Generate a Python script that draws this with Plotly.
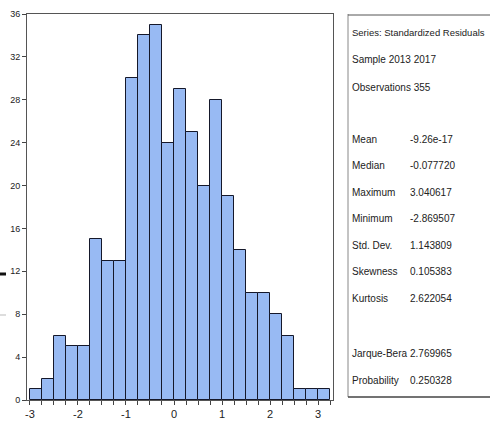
import plotly.graph_objects as go

# ---- data ----
bin_start = -3.0
bin_width = 0.25
counts = [1, 2, 6, 5, 5, 15, 13, 13, 30, 34, 35, 24, 29, 25, 20, 28, 19, 14, 10, 10, 8, 6, 1, 1, 1]
x_ticks = [-3, -2, -1, 0, 1, 2, 3]
y_ticks = [0, 4, 8, 12, 16, 20, 24, 28, 32, 36]

header_lines = ["Series: Standardized Residuals", "Sample 2013 2017", "Observations 355"]
stat_names = ["Mean", "Median", "Maximum", "Minimum", "Std. Dev.", "Skewness", "Kurtosis"]
stat_values = ["-9.26e-17", "-0.077720", "3.040617", "-2.869507", "1.143809", "0.105383", "2.622054"]
test_names = ["Jarque-Bera", "Probability"]
test_values = ["2.769965", "0.250328"]

# ---- layout geometry (pixels) ----
W, H = 490, 432
L, R, T, B = 27, 333, 14, 400
FONT = "Liberation Sans, Arial, sans-serif"


def px(xp):
    return (xp - L) / (R - L)


def py(yp):
    return (B - yp) / (B - T)


centers = [bin_start + bin_width * (i + 0.5) for i in range(len(counts))]

fig = go.Figure(go.Bar(
    x=centers, y=counts, width=bin_width,
    marker=dict(color="#98BAF3", line=dict(color="#15182a", width=1)),
    hoverinfo="x+y",
))

fig.update_layout(
    width=W, height=H,
    margin=dict(l=L, r=W - R, t=T, b=H - B),
    paper_bgcolor="white", plot_bgcolor="white",
    showlegend=False,
    font=dict(family=FONT, size=10, color="#222"),
    bargap=0,
)
fig.update_xaxes(
    range=[-3.06, 3.31], tickvals=x_ticks, ticktext=[str(v) for v in x_ticks],
    showgrid=False, zeroline=False, showline=True, linecolor="#555", linewidth=1,
    mirror=True, ticks="outside", ticklen=4, tickcolor="#444", automargin=False,
    minor=dict(dtick=0.25, tick0=-3, ticks="outside", ticklen=4, tickcolor="#444"),
    tickfont=dict(size=11, family=FONT),
)
fig.update_yaxes(
    range=[0, 36], tickvals=y_ticks, ticktext=[str(v) for v in y_ticks],
    showgrid=False, zeroline=False, showline=True, linecolor="#555", linewidth=1,
    mirror=True, ticks="outside", ticklen=4, tickcolor="#444", automargin=False,
    tickfont=dict(size=9, family=FONT),
)

# stats box
shapes = [
    dict(type="line", xref="paper", yref="paper", x0=px(348), x1=px(348), y0=py(14), y1=py(397),
         line=dict(color="#888", width=1)),
    dict(type="line", xref="paper", yref="paper", x0=px(348), x1=px(492), y0=py(15), y1=py(15),
         line=dict(color="#555", width=1)),
    dict(type="line", xref="paper", yref="paper", x0=px(348), x1=px(492), y0=py(397), y1=py(397),
         line=dict(color="#444", width=1.5)),
    # small edge artifacts at the left
    dict(type="line", xref="paper", yref="paper", x0=px(0), x1=px(6), y0=py(274), y1=py(274),
         line=dict(color="#111", width=3)),
    dict(type="line", xref="paper", yref="paper", x0=px(0), x1=px(6), y0=py(315), y1=py(315),
         line=dict(color="#bbb", width=1)),
]

annotations = []
def add_text(x, y, text, size=10):
    annotations.append(dict(xref="paper", yref="paper", x=px(x), y=py(y), text=text,
                            showarrow=False, xanchor="left", yanchor="middle",
                            font=dict(family=FONT, size=size, color="#222")))

for i, t in enumerate(header_lines):
    add_text(350, 33 + i * 27, t, size=9.5 if i == 0 else 10)
for i, (n, v) in enumerate(zip(stat_names, stat_values)):
    yy = 139 + i * 26.5
    add_text(350, yy, n)
    add_text(408, yy, v)
for i, (n, v) in enumerate(zip(test_names, test_values)):
    yy = 353 + i * 27
    add_text(350, yy, n)
    add_text(408, yy, v)

fig.update_layout(shapes=shapes, annotations=annotations)
fig.write_html("out.html", config={"displayModeBar": False},
               post_script="document.body.style.margin='0px';")
